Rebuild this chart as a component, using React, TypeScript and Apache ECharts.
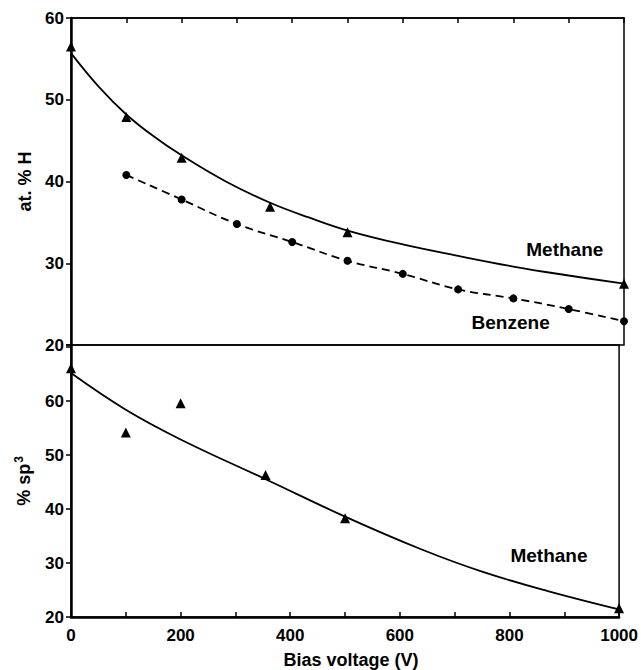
import React, { useEffect, useRef } from "react";
import * as echarts from "echarts";

// Top panel: at.% H vs bias voltage
const methaneHPoints: [number, number][] = [
  [0, 56.5], [100, 47.9], [200, 42.9], [360, 36.9], [500, 33.8], [1000, 27.5],
];
const methaneHCurve: [number, number][] = [
  [0, 55.7], [50, 51.6], [100, 48.2], [150, 45.5], [200, 43.2], [280, 40.0],
  [360, 37.4], [430, 35.6], [500, 34.0], [600, 32.3], [700, 30.9], [800, 29.6],
  [900, 28.5], [1000, 27.5],
];
const benzeneHPoints: [number, number][] = [
  [100, 40.8], [200, 37.8], [300, 34.8], [400, 32.6], [500, 30.3],
  [600, 28.7], [700, 26.8], [800, 25.7], [900, 24.4], [1000, 22.9],
];
// Bottom panel: % sp3 vs bias voltage
const methaneSp3Points: [number, number][] = [
  [0, 66.1], [100, 54.2], [200, 59.6], [355, 46.3], [500, 38.3], [1000, 21.6],
];
const methaneSp3Curve: [number, number][] = [
  [0, 65.2], [100, 58.4], [200, 52.9], [360, 45.3], [500, 38.6], [640, 32.5],
  [750, 28.4], [870, 24.8], [1000, 21.4],
];
const xTicks = [0, 200, 400, 600, 800, 1000];
const labelsTop = [
  { name: "Methane", value: [893, 31.7] },
  { name: "Benzene", value: [795, 22.8] },
];
const labelsBottom = [{ name: "Methane", value: [872, 31.4] }];

const FONT = '"Liberation Sans", Arial, Helvetica, sans-serif';

export default function App() {
  const ref = useRef<HTMLDivElement>(null);
  useEffect(() => {
    if (!ref.current) return;
    const chart = echarts.init(ref.current, undefined, { renderer: "svg" });
    const axisLabelStyle = {
      color: "#000",
      fontFamily: FONT,
      fontWeight: "bold" as const,
      fontSize: 17,
    };
    const titleStyle = { ...axisLabelStyle, fontSize: 18 };
    const xBase = {
      type: "value" as const,
      min: 0,
      max: 1000,
      interval: 100,
      splitLine: { show: false },
    };
    const yBase = {
      type: "value" as const,
      min: 20,
      interval: 10,
      splitLine: { show: false },
      axisTick: { show: true, inside: false, length: 5, lineStyle: { color: "#000", width: 1.5 } },
      axisLine: { show: true, lineStyle: { color: "#000", width: 2.5 } },
      nameLocation: "middle" as const,
      nameRotate: 90,
      nameGap: 38,
      nameTextStyle: titleStyle,
    };
    const textSeries = (data: any[], xi: number) => ({
      type: "scatter" as const,
      xAxisIndex: xi,
      yAxisIndex: xi,
      symbolSize: 0,
      silent: true,
      data,
      itemStyle: { color: "#000", opacity: 1 },
      label: {
        show: true,
        position: "inside" as const,
        formatter: (p: any) => p.name,
        ...axisLabelStyle,
        fontSize: 19,
      },
    });
    chart.setOption({
      animation: false,
      backgroundColor: "#fff",
      grid: [
        { left: 71, right: 17, top: 18, height: 327, show: true, borderColor: "#000", borderWidth: 1.5, backgroundColor: "transparent" },
        { left: 71, right: 17, top: 345, height: 272, show: true, borderColor: "#000", borderWidth: 1.5, backgroundColor: "transparent" },
      ],
      xAxis: [
        {
          ...xBase,
          gridIndex: 0,
          position: "top",
          axisLabel: { show: false },
          axisLine: { show: true, lineStyle: { color: "#000", width: 1.5 } },
          axisTick: { show: true, inside: true, length: 5, lineStyle: { color: "#000", width: 1.5 } },
        },
        {
          ...xBase,
          gridIndex: 1,
          position: "bottom",
          axisLine: { show: true, lineStyle: { color: "#000", width: 2.5 } },
          axisTick: { show: true, inside: true, length: 5, lineStyle: { color: "#000", width: 1.5 } },
          axisLabel: {
            ...axisLabelStyle,
            margin: 10,
            formatter: (v: number) => (xTicks.includes(v) ? String(v) : ""),
          },
          name: "Bias voltage (V)",
          nameLocation: "middle",
          nameGap: 34,
          nameTextStyle: { ...titleStyle, padding: [0, 0, 0, 12] },
        },
      ],
      yAxis: [
        {
          ...yBase,
          gridIndex: 0,
          max: 60,
          name: "at. % H",
          nameGap: 37,
          axisLabel: { ...axisLabelStyle, margin: 7 },
        },
        {
          ...yBase,
          gridIndex: 1,
          max: 70.4,
          name: "{a|% sp}{b|3}",
          nameGap: 36,
          nameTextStyle: {
            ...titleStyle,
            rich: {
              a: { ...titleStyle },
              b: { ...titleStyle, fontSize: 12, padding: [0, 0, 10, 1] },
            },
          },
          axisLabel: {
            ...axisLabelStyle,
            margin: 7,
            formatter: (v: number) => (v % 10 === 0 && v <= 60 ? String(v) : ""),
          },
        },
      ],
      series: [
        {
          type: "line",
          xAxisIndex: 0,
          yAxisIndex: 0,
          data: methaneHCurve,
          smooth: 0.4,
          showSymbol: false,
          lineStyle: { color: "#000", width: 1.8 },
          silent: true,
        },
        {
          type: "scatter",
          xAxisIndex: 0,
          yAxisIndex: 0,
          data: methaneHPoints,
          symbol: "triangle",
          symbolSize: 10,
          itemStyle: { color: "#000", opacity: 1 },
        },
        {
          type: "line",
          xAxisIndex: 0,
          yAxisIndex: 0,
          data: benzeneHPoints,
          smooth: 0.4,
          symbol: "circle",
          symbolSize: 8,
          itemStyle: { color: "#000", opacity: 1 },
          lineStyle: { color: "#000", width: 1.8, type: [8, 5] },
        },
        {
          type: "line",
          xAxisIndex: 1,
          yAxisIndex: 1,
          data: methaneSp3Curve,
          smooth: 0.4,
          showSymbol: false,
          lineStyle: { color: "#000", width: 1.8 },
          silent: true,
        },
        {
          type: "scatter",
          xAxisIndex: 1,
          yAxisIndex: 1,
          data: methaneSp3Points,
          symbol: "triangle",
          symbolSize: 10,
          itemStyle: { color: "#000", opacity: 1 },
        },
        textSeries(labelsTop, 0),
        textSeries(labelsBottom, 1),
      ],
    });
    return () => chart.dispose();
  }, []);
  return <div ref={ref} style={{ width: 641, height: 670, position: "absolute", left: 0, top: 0 }} />;
}
